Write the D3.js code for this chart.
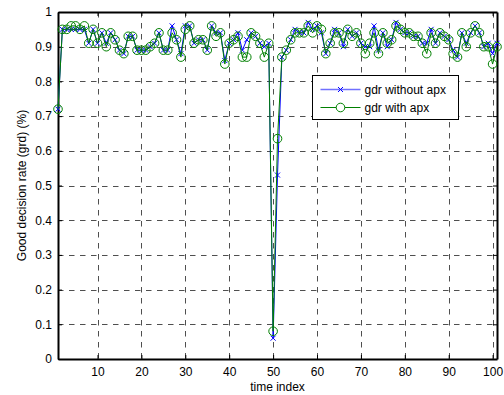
<!DOCTYPE html>
<html>
<head>
<meta charset="utf-8">
<script src="https://cdn.jsdelivr.net/npm/d3@7"></script>
<style>
  body { margin: 0; background: #fff; }
  svg { display: block; font-family: "Liberation Sans", Arial, sans-serif; }
</style>
</head>
<body>
<div id="chart"></div>
<script>
// values, time index 1..101
const gdrWithoutApx = [
  0.72, 0.95, 0.95, 0.95, 0.95, 0.95, 0.95, 0.91, 0.95, 0.91,
  0.94, 0.91, 0.94, 0.92, 0.89, 0.88, 0.93, 0.93, 0.89, 0.89,
  0.89, 0.90, 0.91, 0.94, 0.89, 0.89, 0.96, 0.92, 0.88, 0.96,
  0.96, 0.91, 0.92, 0.92, 0.89, 0.96, 0.94, 0.94, 0.86, 0.91,
  0.92, 0.94, 0.89, 0.92, 0.94, 0.93, 0.91, 0.90, 0.91, 0.06,
  0.53, 0.87, 0.89, 0.92, 0.95, 0.94, 0.94, 0.97, 0.95, 0.96,
  0.94, 0.88, 0.91, 0.95, 0.94, 0.90, 0.95, 0.93, 0.94, 0.91,
  0.90, 0.90, 0.96, 0.89, 0.94, 0.90, 0.92, 0.97, 0.95, 0.94,
  0.94, 0.93, 0.93, 0.91, 0.91, 0.95, 0.91, 0.94, 0.93, 0.92,
  0.89, 0.87, 0.94, 0.91, 0.94, 0.96, 0.94, 0.90, 0.91, 0.88,
  0.91
];
const gdrWithApx = [
  0.72, 0.95, 0.95, 0.96, 0.96, 0.95, 0.96, 0.91, 0.95, 0.91,
  0.94, 0.90, 0.94, 0.92, 0.89, 0.88, 0.93, 0.93, 0.89, 0.89,
  0.89, 0.90, 0.91, 0.94, 0.89, 0.89, 0.94, 0.92, 0.87, 0.95,
  0.96, 0.91, 0.92, 0.92, 0.89, 0.96, 0.93, 0.94, 0.85, 0.91,
  0.92, 0.93, 0.87, 0.87, 0.94, 0.93, 0.91, 0.87, 0.91, 0.08,
  0.635, 0.87, 0.89, 0.92, 0.94, 0.94, 0.94, 0.96, 0.94, 0.96,
  0.95, 0.88, 0.91, 0.94, 0.94, 0.91, 0.95, 0.93, 0.94, 0.91,
  0.88, 0.91, 0.94, 0.88, 0.94, 0.91, 0.92, 0.96, 0.95, 0.94,
  0.94, 0.93, 0.93, 0.91, 0.88, 0.94, 0.91, 0.94, 0.93, 0.92,
  0.88, 0.87, 0.94, 0.90, 0.94, 0.96, 0.94, 0.90, 0.90, 0.85,
  0.90
];
const xTicks = [10, 20, 30, 40, 50, 60, 70, 80, 90, 100];
const yTicks = [0, 0.1, 0.2, 0.3, 0.4, 0.5, 0.6, 0.7, 0.8, 0.9, 1];
const seriesNames = ["gdr without apx", "gdr with apx"];

const width = 504, height = 395;
const margin = { top: 12, right: 7, bottom: 36, left: 58 };
const blue = "#0000ff", green = "#008000";
const fontSize = 12;

const svg = d3.select("#chart").append("svg")
  .attr("width", width)
  .attr("height", height);

const x = d3.scaleLinear().domain([1, 101]).range([margin.left, width - margin.right]);
const y = d3.scaleLinear().domain([0, 1]).range([height - margin.bottom, margin.top]);

// grid
const grid = svg.append("g").attr("class", "grid")
  .attr("stroke", "#222")
  .attr("stroke-width", 0.8)
  .attr("stroke-dasharray", "5.5,5.5");
grid.selectAll(".gx").data(xTicks).enter().append("line")
  .attr("x1", d => Math.round(x(d)) + 0.5).attr("x2", d => Math.round(x(d)) + 0.5)
  .attr("y1", y(1)).attr("y2", y(0));
grid.selectAll(".gy").data(yTicks.filter(d => d > 0 && d < 1)).enter().append("line")
  .attr("y1", d => Math.round(y(d)) + 0.5).attr("y2", d => Math.round(y(d)) + 0.5)
  .attr("x1", x(1)).attr("x2", x(101));

// axes (MATLAB style: inward ticks on all sides)
const tickLen = 4;
const axB = svg.append("g").attr("transform", `translate(0,${y(0)})`)
  .call(d3.axisBottom(x).tickValues(xTicks).tickSizeInner(-tickLen).tickSizeOuter(0).tickPadding(8));
const axT = svg.append("g").attr("transform", `translate(0,${y(1)})`)
  .call(d3.axisTop(x).tickValues(xTicks).tickSizeInner(-tickLen).tickSizeOuter(0).tickFormat(""));
const axL = svg.append("g").attr("transform", `translate(${x(1)},0)`)
  .call(d3.axisLeft(y).tickValues(yTicks).tickSizeInner(-tickLen).tickSizeOuter(0).tickPadding(6)
    .tickFormat(d => d === 0 || d === 1 ? d3.format("d")(d) : d3.format(".1f")(d)));
const axR = svg.append("g").attr("transform", `translate(${x(101)},0)`)
  .call(d3.axisRight(y).tickValues(yTicks).tickSizeInner(-tickLen).tickSizeOuter(0).tickFormat(""));

[axB, axT, axL, axR].forEach(a => {
  a.select(".domain").attr("stroke", "#000").attr("stroke-width", 2);
  a.selectAll(".tick line").attr("stroke", "#000").attr("stroke-width", 1);
  a.selectAll("text").attr("font-size", fontSize).attr("fill", "#000")
    .attr("font-family", "'Liberation Sans', Arial, sans-serif");
});

// series
const idx = d3.range(1, 102);
const line = d3.line().x(d => x(d[0])).y(d => y(d[1]));
const ptsBlue = idx.map((t, i) => [t, gdrWithoutApx[i]]);
const ptsGreen = idx.map((t, i) => [t, gdrWithApx[i]]);

svg.append("path").datum(ptsBlue)
  .attr("fill", "none").attr("stroke", blue).attr("stroke-width", 1).attr("d", line);
const xm = 2.5;
svg.append("g").selectAll("path").data(ptsBlue).enter().append("path")
  .attr("d", d => `M${x(d[0]) - xm},${y(d[1]) - xm}L${x(d[0]) + xm},${y(d[1]) + xm}M${x(d[0]) - xm},${y(d[1]) + xm}L${x(d[0]) + xm},${y(d[1]) - xm}`)
  .attr("stroke", blue).attr("stroke-width", 1);

svg.append("path").datum(ptsGreen)
  .attr("fill", "none").attr("stroke", green).attr("stroke-width", 1).attr("d", line);
svg.append("g").selectAll("circle").data(ptsGreen).enter().append("circle")
  .attr("cx", d => x(d[0])).attr("cy", d => y(d[1])).attr("r", 4.3)
  .attr("fill", "none").attr("stroke", green).attr("stroke-width", 1);

// axis labels
svg.append("text")
  .attr("x", (x(1) + x(101)) / 2).attr("y", 391)
  .attr("text-anchor", "middle").attr("font-size", fontSize)
  .text("time index");
svg.append("text")
  .attr("transform", `translate(26,${(y(0) + y(1)) / 2}) rotate(-90)`)
  .attr("text-anchor", "middle").attr("font-size", fontSize)
  .text("Good decision rate (grd) (%)");

// legend
const lg = svg.append("g").attr("transform", "translate(312.5,75.5)");
lg.append("rect").attr("width", 146).attr("height", 44)
  .attr("fill", "#fff").attr("stroke", "#000").attr("stroke-width", 1);
const rows = [
  { name: seriesNames[0], color: blue, marker: "x", cy: 14 },
  { name: seriesNames[1], color: green, marker: "o", cy: 32 }
];
rows.forEach(r => {
  lg.append("line").attr("x1", 8).attr("x2", 48).attr("y1", r.cy).attr("y2", r.cy)
    .attr("stroke", r.marker === "x" ? "#7070ff" : r.color).attr("stroke-width", r.marker === "x" ? 1.5 : 1);
  if (r.marker === "x") {
    lg.append("path")
      .attr("d", `M${28 - xm},${r.cy - xm}L${28 + xm},${r.cy + xm}M${28 - xm},${r.cy + xm}L${28 + xm},${r.cy - xm}`)
      .attr("stroke", r.color).attr("stroke-width", 1);
  } else {
    lg.append("circle").attr("cx", 28).attr("cy", r.cy).attr("r", 4.3)
      .attr("fill", "#fff").attr("stroke", r.color).attr("stroke-width", 1);
  }
  lg.append("text").attr("x", 52).attr("y", r.cy + 4)
    .attr("font-size", fontSize).attr("fill", "#000").text(r.name);
});
</script>
</body>
</html>
